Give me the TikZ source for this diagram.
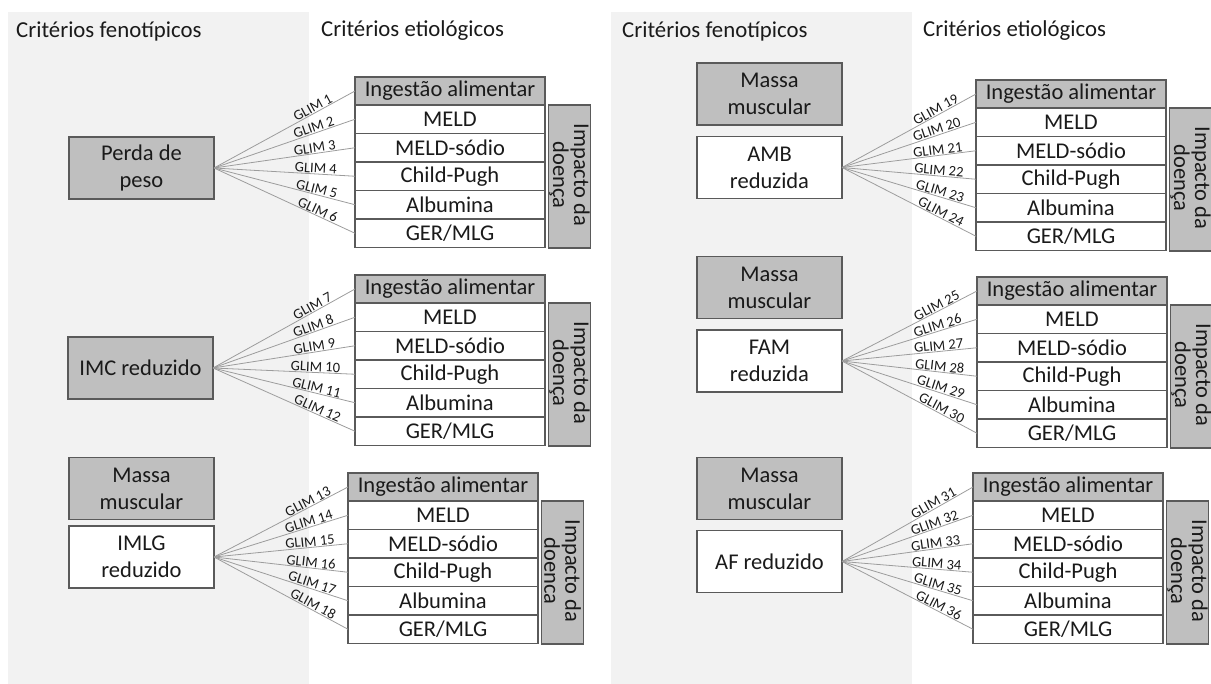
\documentclass[tikz,border=0pt]{standalone}
\usepackage{fontspec}
\setmainfont{Carlito}
\definecolor{panelgray}{HTML}{F2F2F2}
\definecolor{boxgray}{HTML}{BFBFBF}
\definecolor{boxline}{HTML}{5A5A5A}
\definecolor{glimgray}{HTML}{9C9C9C}
\definecolor{inkgray}{HTML}{1A1A1A}
\begin{document}
\begin{tikzpicture}[
  x = 1pt, y = -1pt,
  panel/.style = {
    fill = panelgray,
    draw = none
  },
  title/.style = {
    anchor = west,
    inner sep = 0pt,
    text = inkgray,
    font = \fontsize{22.8}{26}\selectfont
  },
  box/.style = {
    shape = rectangle,
    draw = boxline,
    line width = 1.6pt,
    inner sep = 0pt,
    outer sep = 0pt,
    align = center,
    text = inkgray,
    font = \fontsize{22.5}{27}\selectfont
  },
  crit/.style = {
    box,
    fill = boxgray,
    minimum width = 145,
    minimum height = 62
  },
  critw/.style = {
    crit,
    fill = white
  },
  ingest/.style = {
    box,
    fill = boxgray,
    anchor = north west,
    minimum width = 190,
    minimum height = 28
  },
  row/.style = {
    box,
    fill = white,
    anchor = north west,
    minimum width = 190,
    minimum height = 28.5
  },
  impacto/.style = {
    box,
    fill = boxgray,
    minimum width = 42,
    minimum height = 143
  },
  impactotext/.style = {
    rotate = -90,
    align = center,
    inner sep = 0pt,
    xshift = -1.5pt,
    text = inkgray,
    font = \fontsize{22.5}{21}\selectfont
  },
  glim/.style = {
    draw = glimgray,
    line width = 0.8pt
  },
  glimlabel/.style = {
    sloped,
    above,
    pos = 0.72,
    inner sep = 0.5pt,
    text = inkgray,
    font = \fontsize{14.5}{14.5}\selectfont
  }
]
  \useasboundingbox (0, 0) rectangle (1211, 684);

  % background panels
  \fill[panel] (8, 12) rectangle (309, 684);
  \fill[panel] (611, 12) rectangle (912, 684);

  \node[title] (fen1) at (16, 31) {Critérios fenotípicos};
  \node[title] (etio1) at (321, 31) {Critérios etiológicos};
  \node[title] (fen2) at (622, 31) {Critérios fenotípicos};
  \node[title] (etio2) at (923, 31) {Critérios etiológicos};

  % phenotypic criteria
  \node[crit] (perda) at (141.5, 168) {Perda de\\peso};
  \node[crit] (imc) at (140.5, 368) {IMC reduzido};
  \node[crit] (massa1) at (141.5, 488.5) {Massa\\muscular};
  \node[critw] (imlg) at (141.5, 557) {IMLG\\reduzido};

  \node[crit] (massa2) at (769.5, 94) {Massa\\muscular};
  \node[critw] (amb) at (769.5, 167.5) {AMB\\reduzida};
  \node[crit] (massa3) at (769.5, 287.5) {Massa\\muscular};
  \node[critw] (fam) at (769.5, 361) {FAM\\reduzida};
  \node[crit] (massa4) at (769.5, 488.5) {Massa\\muscular};
  \node[critw] (af) at (769.5, 561.5) {AF reduzido};

  % etiological criteria, one stack per group
  \foreach \g/\sx/\sy/\fan/\first/\dn in {
      1/355/77/perda/1/doença,
      2/355/275/imc/7/doença,
      3/348/473/imlg/13/doenca,
      4/976/80/amb/19/doença,
      5/977/277/fam/25/doença,
      6/973/473/af/31/doença} {
    \node[ingest] (g\g-r0) at (\sx, \sy) {Ingestão alimentar};
    \foreach \txt [count = \i] in {MELD, MELD-sódio, Child-Pugh, Albumina, GER/MLG}
      \node[row] (g\g-r\i) at (\sx, \sy + 28.5*\i - 0.5) {\txt};
    \node[impacto] (g\g-imp) at (\sx + 214.5, \sy + 99.5) {};
    \node[impactotext] (g\g-imptxt) at (g\g-imp) {Impacto da\\\dn};
    \foreach \i in {0, ..., 5} {
      \pgfmathtruncatemacro\n{\first + \i}
      \draw[glim] (\fan.east) -- node[glimlabel] {GLIM \n} (g\g-r\i.west);
    }
  }
\end{tikzpicture}
\end{document}
